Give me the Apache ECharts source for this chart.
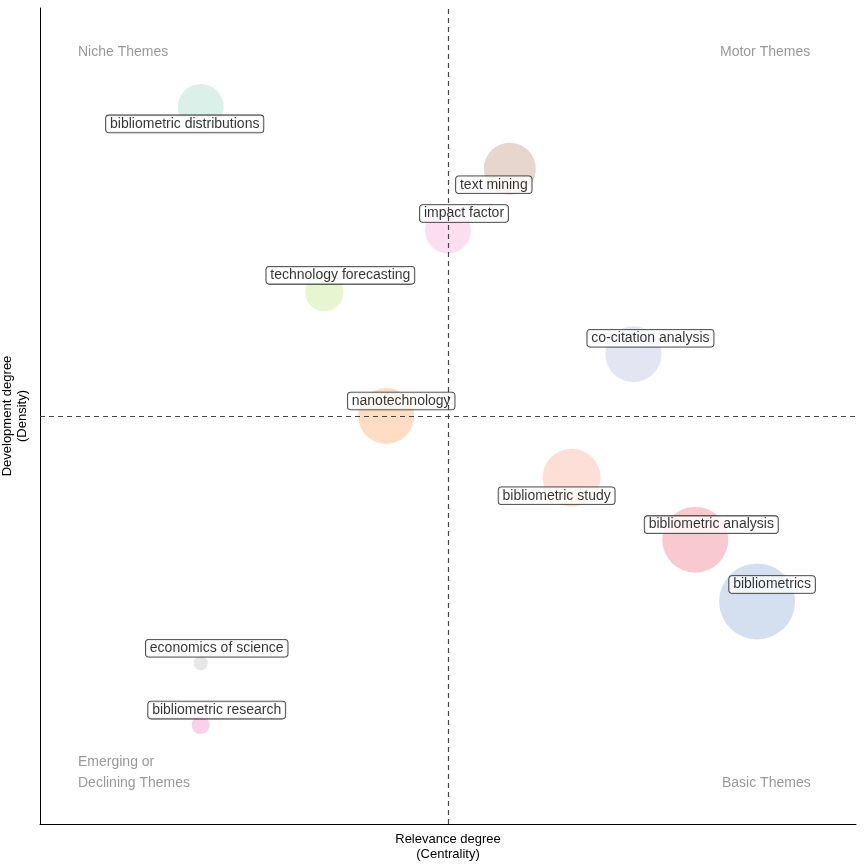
<!DOCTYPE html>
<html><head><meta charset="utf-8">
<script src="https://cdn.jsdelivr.net/npm/echarts@6/dist/echarts.min.js"></script>
<style>html,body{margin:0;padding:0;background:#fff}#c{width:864px;height:864px}</style>
</head><body><div id="c"></div>
<script>
const names = ["bibliometric distributions","text mining","impact factor","technology forecasting","co-citation analysis","nanotechnology","bibliometric study","bibliometric analysis","bibliometrics","economics of science","bibliometric research"];
const centrality = [1,6,5,3,8,4,7,9,10,1,1];
const density = [11,10,9,8,7,6,5,4,3,2,1];
const sizes = [46,52,46,38,56,56,58,66,76,14,18];
const colors = ["rgba(102,194,165,0.3)","rgba(166,108,80,0.35)","rgba(240,140,200,0.35)","rgba(180,225,110,0.4)","rgba(140,150,205,0.3)","rgba(252,150,70,0.4)","rgba(252,140,110,0.35)","rgba(235,60,85,0.35)","rgba(90,135,195,0.32)","rgba(170,170,170,0.35)","rgba(240,110,190,0.4)"];
const labelOffsets = [[-16,17],[-16,16],[16,-17],[16,-17],[17,-16],[15,-15],[-15,18],[16,-15],[15,-17],[16,-15],[16,-15]];
const data = names.map((n,i)=>({name:n,value:[centrality[i],density[i]],symbolSize:sizes[i],
  itemStyle:{color:colors[i]},
  label:{offset:labelOffsets[i]}}));
const chart = echarts.init(document.getElementById('c'));
const q = (t,x,y)=>({type:'text',left:x,top:y,style:{text:t,fill:'#999',font:'14px "Liberation Sans", Arial',lineHeight:21}});
chart.setOption({
  animation:false,
  grid:{left:40,right:8,top:8,bottom:40,outerBoundsMode:'none',containLabel:false},
  xAxis:{type:'value',min:-1.6,max:11.6,name:'Relevance degree\n(Centrality)',nameLocation:'middle',nameGap:8,
    nameTextStyle:{color:'#000',fontSize:13,fontFamily:'Liberation Sans',lineHeight:15,verticalAlign:'top'},
    axisLine:{show:true,onZero:false,lineStyle:{color:'#000'}},axisTick:{show:false},axisLabel:{show:false},splitLine:{show:false}},
  yAxis:{type:'value',min:-0.6,max:12.6,name:'Development degree\n(Density)',nameLocation:'middle',nameGap:10,
    nameTextStyle:{color:'#000',fontSize:13,fontFamily:'Liberation Sans',lineHeight:15},
    axisLine:{show:true,onZero:false,lineStyle:{color:'#000'}},axisTick:{show:false},axisLabel:{show:false},splitLine:{show:false}},
  series:[{type:'scatter',data:data,
    label:{show:true,formatter:'{b}',position:'inside',color:'#000',fontSize:14,fontFamily:'Liberation Sans',
      backgroundColor:'#fff',borderColor:'#000',borderWidth:0.8,borderRadius:3,padding:[2,4,1,4]},
    markLine:{silent:true,symbol:'none',label:{show:false},lineStyle:{color:'#444',type:[5,4],width:1.2},
      data:[{xAxis:5},{yAxis:6}]},
    z:2}],
  graphic:[q('Niche Themes',78,42),q('Motor Themes',720,42),q('Emerging or\nDeclining Themes',78,752),q('Basic Themes',722,773)]
});
</script></body></html>
